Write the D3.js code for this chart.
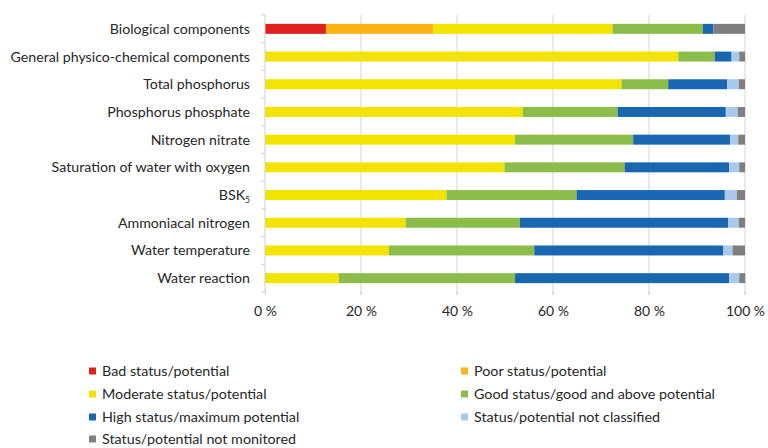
<!DOCTYPE html>
<html>
<head>
<meta charset="utf-8">
<script src="https://cdn.jsdelivr.net/npm/d3@7"></script>
<style>
  body { margin: 0; background: #fff; }
  text { font-family: Lato, "Open Sans", sans-serif; fill: #262626; }
</style>
</head>
<body>
<div id="chart"></div>
<script>
const categories = [
  "Biological components",
  "General physico-chemical components",
  "Total phosphorus",
  "Phosphorus phosphate",
  "Nitrogen nitrate",
  "Saturation of water with oxygen",
  "BSK5",
  "Ammoniacal nitrogen",
  "Water temperature",
  "Water reaction"
];
const seriesNames = [
  "Bad status/potential",
  "Poor status/potential",
  "Moderate status/potential",
  "Good status/good and above potential",
  "High status/maximum potential",
  "Status/potential not classified",
  "Status/potential not monitored"
];
const bad          = [12.7, 0, 0, 0, 0, 0, 0, 0, 0, 0];
const poor         = [22.4, 0, 0, 0, 0, 0, 0, 0, 0, 0];
const moderate     = [37.3, 86.1, 74.3, 53.7, 52.1, 49.9, 37.8, 29.3, 25.8, 15.4];
const good         = [18.8, 7.6, 9.7, 19.8, 24.6, 25.0, 27.1, 23.8, 30.3, 36.7];
const high         = [2.2, 3.5, 12.3, 22.5, 20.2, 21.8, 30.9, 43.4, 39.4, 44.6];
const notClassified = [0, 1.6, 2.4, 2.5, 1.7, 2.1, 2.5, 2.2, 1.9, 2.1];
const notMonitored = [6.6, 1.2, 1.3, 1.5, 1.4, 1.2, 1.7, 1.3, 2.6, 1.25];
const xTicks = [0, 20, 40, 60, 80, 100];

const colors = ["#e0201f", "#fbb414", "#f2e300", "#8cbd4b", "#1a67b1", "#a9c9ec", "#7f7f7f"];

const width = 768, height = 448;
const margin = { top: 15, right: 23, bottom: 156, left: 265 };

const svg = d3.select("#chart").append("svg")
  .attr("width", width)
  .attr("height", height);

const keys = ["bad", "poor", "moderate", "good", "high", "nc", "nm"];
const table = categories.map((c, i) => ({
  name: c,
  bad: bad[i], poor: poor[i], moderate: moderate[i], good: good[i],
  high: high[i], nc: notClassified[i], nm: notMonitored[i]
}));
const stacked = d3.stack().keys(keys)(table);

const x = d3.scaleLinear()
  .domain([0, 100])
  .range([margin.left, width - margin.right]);

const y = d3.scaleBand()
  .domain(categories)
  .range([margin.top, height - margin.bottom])
  .paddingInner(0.64)
  .paddingOuter(0.32);

// grid lines
svg.append("g")
  .selectAll("line")
  .data(xTicks.slice(1))
  .join("line")
    .attr("x1", d => x(d)).attr("x2", d => x(d))
    .attr("y1", margin.top).attr("y2", height - margin.bottom + 3)
    .attr("stroke", "#d4d4d4");

// bars
svg.append("g")
  .selectAll("g")
  .data(stacked)
  .join("g")
    .attr("fill", (d, i) => colors[i])
  .selectAll("rect")
  .data(d => d)
  .join("rect")
    .attr("x", d => x(d[0]))
    .attr("y", d => y(d.data.name))
    .attr("width", d => x(d[1]) - x(d[0]))
    .attr("height", y.bandwidth());

// y axis line + boundary ticks
const step = y.step();
const yAxis = svg.append("g");
yAxis.append("line")
  .attr("x1", x(0)).attr("x2", x(0))
  .attr("y1", margin.top).attr("y2", height - margin.bottom)
  .attr("stroke", "#cfcfcf");
yAxis.selectAll(".btick")
  .data(d3.range(categories.length + 1))
  .join("line")
    .attr("x1", x(0) - 4).attr("x2", x(0))
    .attr("y1", i => margin.top + i * step)
    .attr("y2", i => margin.top + i * step)
    .attr("stroke", "#cfcfcf");

// category labels
const labels = yAxis.selectAll(".lab")
  .data(categories)
  .join("text")
    .attr("x", x(0) - 15)
    .attr("y", d => y(d) + y.bandwidth() / 2)
    .attr("dy", "0.35em")
    .attr("text-anchor", "end")
    .attr("font-size", 14.2);
labels.each(function(d) {
  const t = d3.select(this);
  if (d === "BSK5") {
    t.append("tspan").text("BSK");
    t.append("tspan").attr("font-size", 8.5).attr("dy", 3).text("5");
  } else {
    t.text(d);
  }
});

// x axis
const xAxis = d3.axisBottom(x).tickValues(xTicks).tickSize(3).tickFormat(d => d + " %");
svg.append("g")
  .attr("transform", `translate(0,${height - margin.bottom})`)
  .call(xAxis)
  .call(g => g.select(".domain").remove())
  .call(g => g.selectAll("line").attr("stroke", "#cfcfcf"))
  .call(g => g.selectAll("text").attr("font-size", 14).attr("dy", "1.25em")
    .attr("font-family", "Lato, 'Open Sans', sans-serif").attr("fill", "#262626"));

// legend
const legendPos = [
  [89, 371], [461, 371],
  [89, 394], [461, 394],
  [89, 417], [461, 417],
  [89, 439]
];
const legend = svg.append("g")
  .selectAll("g")
  .data(seriesNames)
  .join("g")
    .attr("transform", (d, i) => `translate(${legendPos[i][0]},${legendPos[i][1]})`);
legend.append("rect")
  .attr("x", 0).attr("y", -3.5)
  .attr("width", 7).attr("height", 7)
  .attr("fill", (d, i) => colors[i]);
legend.append("text")
  .attr("x", 13)
  .attr("dy", "0.35em")
  .attr("font-size", 14.3)
  .text(d => d);
</script>
</body>
</html>
